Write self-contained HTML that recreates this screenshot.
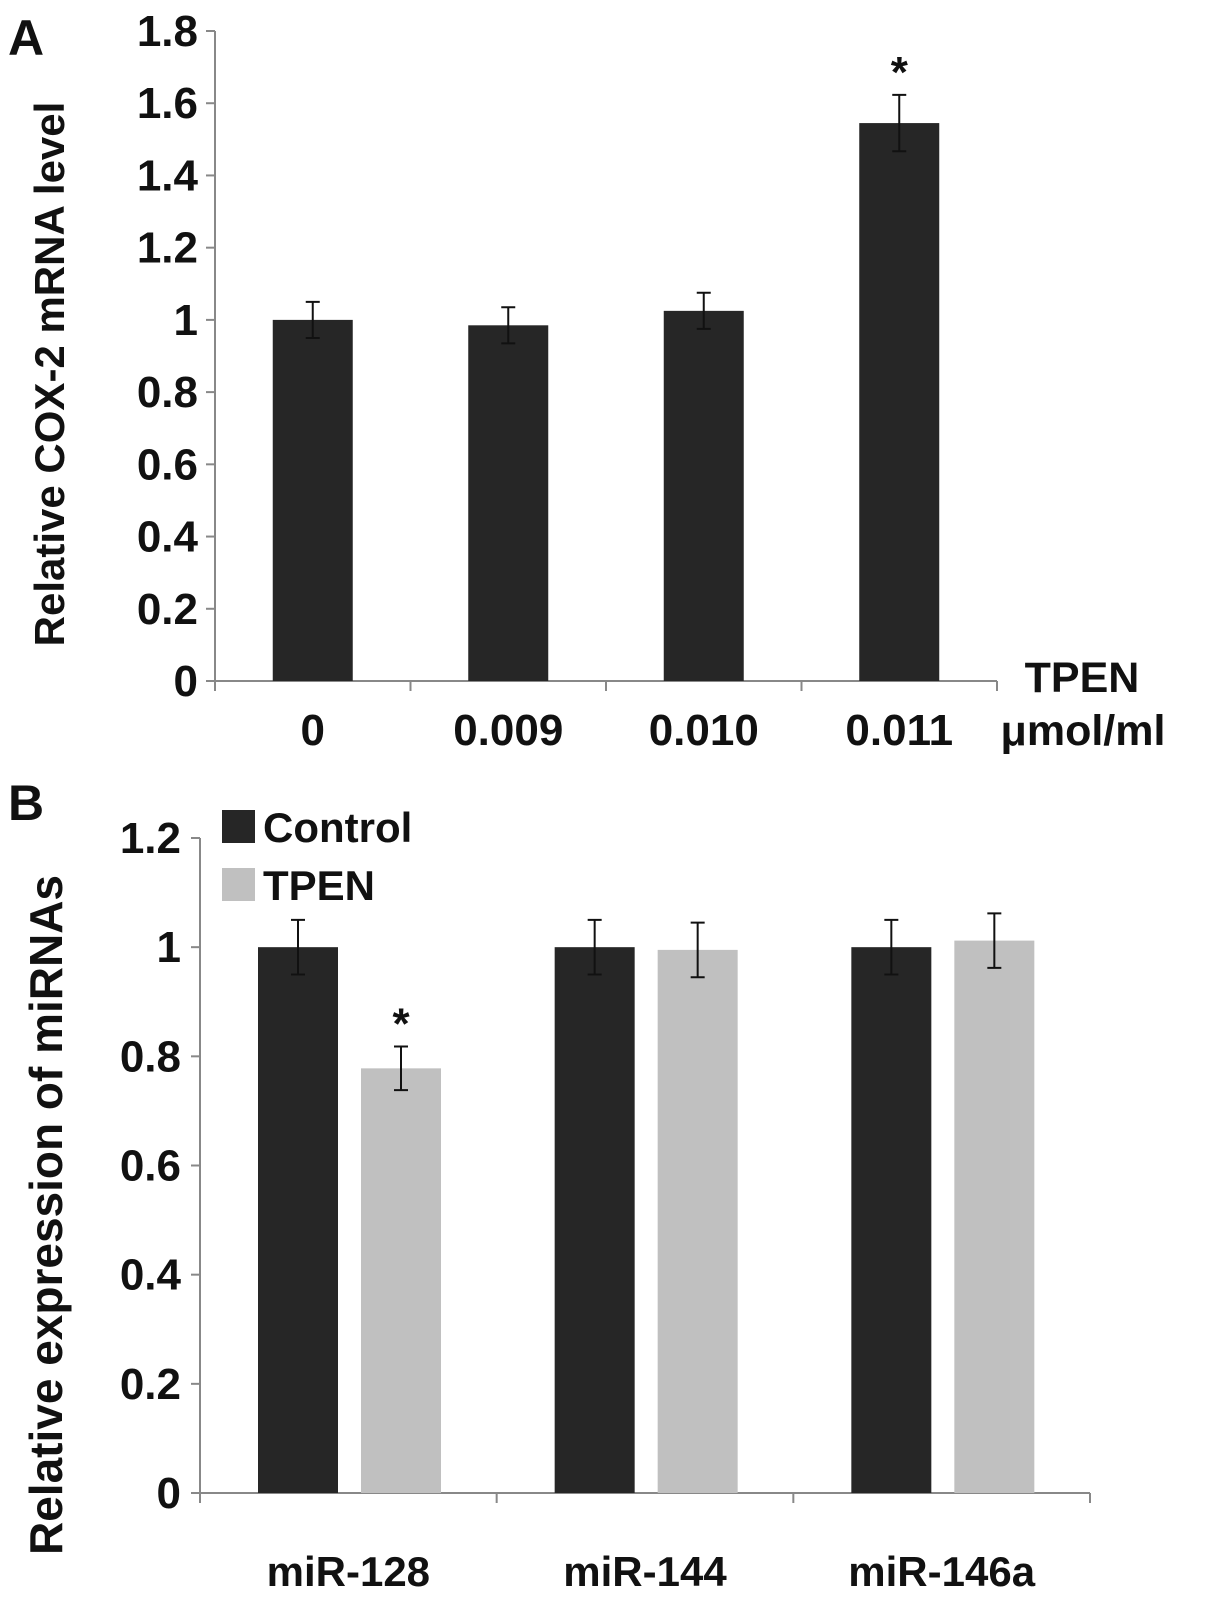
<!DOCTYPE html>
<html><head><meta charset="utf-8"><style>
body{margin:0;background:#fff}
svg text{font-family:"Liberation Sans",sans-serif;font-weight:bold;fill:#111}
</style></head><body>
<svg id="c" width="1205" height="1600">
<text x="8" y="55" font-size="50">A</text>
<text x="8" y="820" font-size="50">B</text>
<text transform="translate(64,374) rotate(-90)" text-anchor="middle" font-size="42">Relative COX-2 mRNA level</text>
<text transform="translate(62,1215) rotate(-90)" text-anchor="middle" font-size="46">Relative expression of miRNAs</text>
<text x="1082" y="692" text-anchor="middle" font-size="43">TPEN</text>
<text x="1083" y="745" text-anchor="middle" font-size="43">μmol/ml</text>
<rect x="222" y="810" width="33" height="33" fill="#262626"/>
<text x="263" y="842" font-size="42">Control</text>
<rect x="222" y="868" width="33" height="33" fill="#c0c0c0"/>
<text x="263" y="900" font-size="42">TPEN</text>
</svg>
<script>
const catsA=["0","0.009","0.010","0.011"];
const valsA=[1.0,0.985,1.025,1.545];
const errA=[0.05,0.05,0.05,0.078];
const sigA=[false,false,false,true];
const ticksA=["0","0.2","0.4","0.6","0.8","1","1.2","1.4","1.6","1.8"];
const catsB=["miR-128","miR-144","miR-146a"];
const ctrlB=[1.0,1.0,1.0];
const ctrlErrB=[0.05,0.05,0.05];
const tpenB=[0.778,0.995,1.012];
const tpenErrB=[0.04,0.05,0.05];
const sigB=[true,false,false];
const ticksB=["0","0.2","0.4","0.6","0.8","1","1.2"];
const svg=document.getElementById('c');
const NS="http://www.w3.org/2000/svg";
function mk(t,a){const e=document.createElementNS(NS,t);for(const k in a)e.setAttribute(k,a[k]);svg.appendChild(e);return e;}
function errbar(x,y1,y2){
 return mk('path',{d:`M${x},${y1}V${y2}M${x-7},${y1}H${x+7}M${x-7},${y2}H${x+7}`,stroke:'#111','stroke-width':2,fill:'none'});}
// Panel A
const ax0=215,ax1=997,ay0=681,ay1=31,amax=1.8;
const yA=v=>ay0-(v/amax)*(ay0-ay1);
let e;
e=mk('path',{d:`M${ax0},${ay1}V${ay0}H${ax1}`,stroke:'#888','stroke-width':2,fill:'none'});

ticksA.forEach(t=>{const y=yA(+t);
 e=mk('line',{x1:ax0-9,x2:ax0,y1:y,y2:y,stroke:'#888','stroke-width':2});
 
 e=mk('text',{x:ax0-17,y:y+15,'text-anchor':'end','font-size':44});e.textContent=t;
 });
const cwA=(ax1-ax0)/catsA.length;
for(let i=0;i<=catsA.length;i++){e=mk('line',{x1:ax0+i*cwA,x2:ax0+i*cwA,y1:ay0,y2:ay0+10,stroke:'#888','stroke-width':2});
 }
catsA.forEach((c,i)=>{const cx=ax0+cwA*(i+0.5);
 e=mk('rect',{x:cx-40,y:yA(valsA[i]),width:80,height:ay0-yA(valsA[i]),fill:'#262626'});
 
 e=errbar(cx,yA(valsA[i]+errA[i]),yA(valsA[i]-errA[i]));
 
 if(sigA[i]){e=mk('text',{x:cx,y:yA(valsA[i]+errA[i])-8,'text-anchor':'middle','font-size':44});e.textContent='*';
  }
 e=mk('text',{x:cx,y:745,'text-anchor':'middle','font-size':44});e.textContent=c;
 });
// Panel B
const bx0=200,bx1=1090,by0=1493,by1=838,bmax=1.2;
const yB=v=>by0-(v/bmax)*(by0-by1);
e=mk('path',{d:`M${bx0},${by1}V${by0}H${bx1}`,stroke:'#888','stroke-width':2,fill:'none'});

ticksB.forEach(t=>{const y=yB(+t);
 e=mk('line',{x1:bx0-9,x2:bx0,y1:y,y2:y,stroke:'#888','stroke-width':2});
 
 e=mk('text',{x:bx0-19,y:y+15,'text-anchor':'end','font-size':44});e.textContent=t;
 });
const cwB=(bx1-bx0)/catsB.length;
for(let i=0;i<=catsB.length;i++){e=mk('line',{x1:bx0+i*cwB,x2:bx0+i*cwB,y1:by0,y2:by0+10,stroke:'#888','stroke-width':2});
 }
catsB.forEach((c,i)=>{const gx=bx0+cwB*i;
 const c1=gx+98,c2=gx+201;
 e=mk('rect',{x:c1-40,y:yB(ctrlB[i]),width:80,height:by0-yB(ctrlB[i]),fill:'#262626'});
 
 e=mk('rect',{x:c2-40,y:yB(tpenB[i]),width:80,height:by0-yB(tpenB[i]),fill:'#c0c0c0'});
 
 e=errbar(c1,yB(ctrlB[i]+ctrlErrB[i]),yB(ctrlB[i]-ctrlErrB[i]));
 
 e=errbar(c2,yB(tpenB[i]+tpenErrB[i]),yB(tpenB[i]-tpenErrB[i]));
 
 if(sigB[i]){e=mk('text',{x:c2,y:yB(tpenB[i]+tpenErrB[i])-8,'text-anchor':'middle','font-size':44});e.textContent='*';
  }
 e=mk('text',{x:gx+cwB/2,y:1586,'text-anchor':'middle','font-size':42});e.textContent=c;
 });
</script>
</body></html>
